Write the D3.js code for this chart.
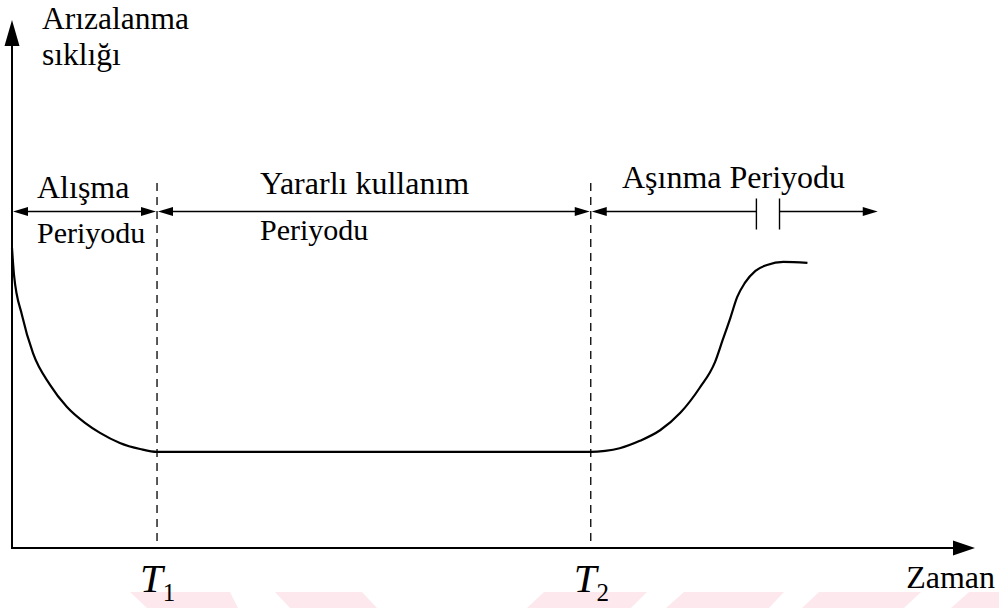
<!DOCTYPE html>
<html>
<head>
<meta charset="utf-8">
<script src="https://cdn.jsdelivr.net/npm/d3@7"></script>
<style>
  html, body { margin: 0; padding: 0; background: #fff; }
  svg { display: block; }
</style>
</head>
<body>
<svg id="chart" width="999" height="608"></svg>
<script>
// Bathtub curve: failure rate over time (arbitrary units 0..100 on both axes)
const timeValues = [0, 0.21, 1.04, 2.18, 3.95, 5.71, 7.58, 9.14, 11.2, 13.3, 15.06,
  60.1, 61.6, 63.1, 65.2, 67.3, 69.4, 71.4, 73.0, 73.8, 74.6, 75.3, 76.1, 77.2, 78.4, 80.1, 82.6];
const rateValues = [56.8, 51.7, 44.1, 36.9, 30.9, 26.7, 23.7, 21.8, 19.9, 18.75, 18.2,
  18.2, 18.4, 18.9, 20.3, 22.3, 25.6, 30.3, 35.2, 39.4, 43.6, 47.5, 50.2, 52.5, 53.6, 54.2, 54.0];

// Period boundaries T1, T2 and the period labels
const milestoneNames = ["T", "T"];
const milestoneSubs = ["1", "2"];
const milestoneTimes = [15.06, 60.1];
const periodNames = [["Alışma", "Periyodu"], ["Yararlı kullanım", "Periyodu"], ["Aşınma Periyodu"]];
const periodStarts = [0, 15.06, 60.1];
const periodEnds = [15.06, 60.1, 89.9];
const wearBreak = [77.3, 79.7];

const yAxisTitle = ["Arızalanma", "sıklığı"];
const xAxisTitle = "Zaman";

const FONT = "Liberation Serif";

const svg = d3.select("#chart");

const x = d3.scaleLinear().domain([0, 100]).range([12, 975]);
const y = d3.scaleLinear().domain([0, 100]).range([548, 20]);

// Faint background band shapes along the bottom edge
const bandShapes = [
  [[130, 592], [230, 592], [238, 608], [147, 608]],
  [[275, 592], [362, 592], [377, 608], [290, 608]],
  [[544, 592], [647, 592], [631, 608], [527, 608]],
  [[684, 592], [784, 592], [769, 608], [666, 608]],
  [[819, 592], [921, 592], [904, 608], [802, 608]],
  [[969, 592], [1010, 592], [1010, 608], [951, 608]]
];
svg.append("g").selectAll("polygon").data(bandShapes).join("polygon")
  .attr("points", d => d.map(p => p.join(",")).join(" "))
  .attr("fill", "#fde9ed");

// Arrowhead helper (filled triangle, tip at (tx,ty), pointing in direction angle)
function arrowHead(g, tx, ty, dir, len, half) {
  const dx = Math.cos(dir), dy = Math.sin(dir);
  const bx = tx - dx * len, by = ty - dy * len;
  const px = -dy * half, py = dx * half;
  g.append("path")
    .attr("d", `M${tx},${ty}L${bx + px},${by + py}L${bx - px},${by - py}Z`)
    .attr("fill", "#000");
}

function addText(parent, tx, ty, size, str) {
  return parent.append("text")
    .attr("x", tx).attr("y", ty)
    .attr("font-family", FONT)
    .attr("font-size", size)
    .attr("fill", "#000")
    .text(str);
}

// Axes
const axes = svg.append("g");
axes.append("line")
  .attr("x1", x(0)).attr("y1", y(0)).attr("x2", x(0)).attr("y2", y(100) + 20)
  .attr("stroke", "#000").attr("stroke-width", 2);
arrowHead(axes, x(0), y(100), -Math.PI / 2, 26, 7.5);
axes.append("line")
  .attr("x1", x(0) - 1).attr("y1", y(0)).attr("x2", x(100) - 18).attr("y2", y(0))
  .attr("stroke", "#000").attr("stroke-width", 2);
arrowHead(axes, x(100), y(0), 0, 22, 7.5);

// Axis titles
addText(svg, 42, 29, 31.5, yAxisTitle[0]);
addText(svg, 42, 65, 31.5, yAxisTitle[1]);
addText(svg, 995, 588, 32, xAxisTitle).attr("text-anchor", "end");

// Dashed period boundaries
svg.append("g").selectAll("line").data(milestoneTimes).join("line")
  .attr("x1", d => x(d)).attr("x2", d => x(d))
  .attr("y1", 183).attr("y2", y(0))
  .attr("stroke", "#000").attr("stroke-width", 1.3)
  .attr("stroke-dasharray", "8,6");

// Milestone labels T1, T2
const ml = svg.append("g").selectAll("text").data(milestoneTimes).join("text")
  .attr("x", d => x(d) - 17).attr("y", 592)
  .attr("font-family", FONT);
ml.append("tspan").attr("font-size", 41).attr("font-style", "italic")
  .text((d, i) => milestoneNames[i]);
ml.append("tspan").attr("font-size", 25).attr("dy", 9).attr("dx", 0)
  .text((d, i) => milestoneSubs[i]);

// Period span arrows
const arrowY = 211.5;
const arrows = svg.append("g");
periodStarts.forEach((s, i) => {
  const e = periodEnds[i];
  if (i < 2) {
    arrows.append("line").attr("x1", x(s) + 10).attr("x2", x(e) - 10)
      .attr("y1", arrowY).attr("y2", arrowY)
      .attr("stroke", "#000").attr("stroke-width", 1.6);
    arrowHead(arrows, x(s) + 1, arrowY, Math.PI, 15, 4.5);
    arrowHead(arrows, x(e) - 1, arrowY, 0, 15, 4.5);
  } else {
    arrows.append("line").attr("x1", x(s) + 10).attr("x2", x(wearBreak[0]))
      .attr("y1", arrowY).attr("y2", arrowY)
      .attr("stroke", "#000").attr("stroke-width", 1.6);
    arrows.append("line").attr("x1", x(wearBreak[1])).attr("x2", x(e) - 10)
      .attr("y1", arrowY).attr("y2", arrowY)
      .attr("stroke", "#000").attr("stroke-width", 1.6);
    wearBreak.forEach(b => {
      arrows.append("line").attr("x1", x(b)).attr("x2", x(b))
        .attr("y1", arrowY - 13).attr("y2", arrowY + 18)
        .attr("stroke", "#000").attr("stroke-width", 1.4);
    });
    arrowHead(arrows, x(s) + 1, arrowY, Math.PI, 15, 4.5);
    arrowHead(arrows, x(e), arrowY, 0, 15, 4.5);
  }
});

// Period labels (first line above the span arrow, second line below it)
const labelPos = [
  { x: 37, y1: 198, y2: 243 },
  { x: 260, y1: 194, y2: 240 },
  { x: 622, y1: 188, y2: null }
];
periodNames.forEach((lines, i) => {
  addText(svg, labelPos[i].x, labelPos[i].y1, 32, lines[0]);
  if (lines[1]) addText(svg, labelPos[i].x, labelPos[i].y2, 30, lines[1]);
});

// Failure-rate curve
const pts = timeValues.map((t, i) => [t, rateValues[i]]);
svg.append("path")
  .datum(pts)
  .attr("d", d3.line().x(d => x(d[0])).y(d => y(d[1])).curve(d3.curveMonotoneX))
  .attr("fill", "none").attr("stroke", "#000").attr("stroke-width", 2.2);
</script>
</body>
</html>
